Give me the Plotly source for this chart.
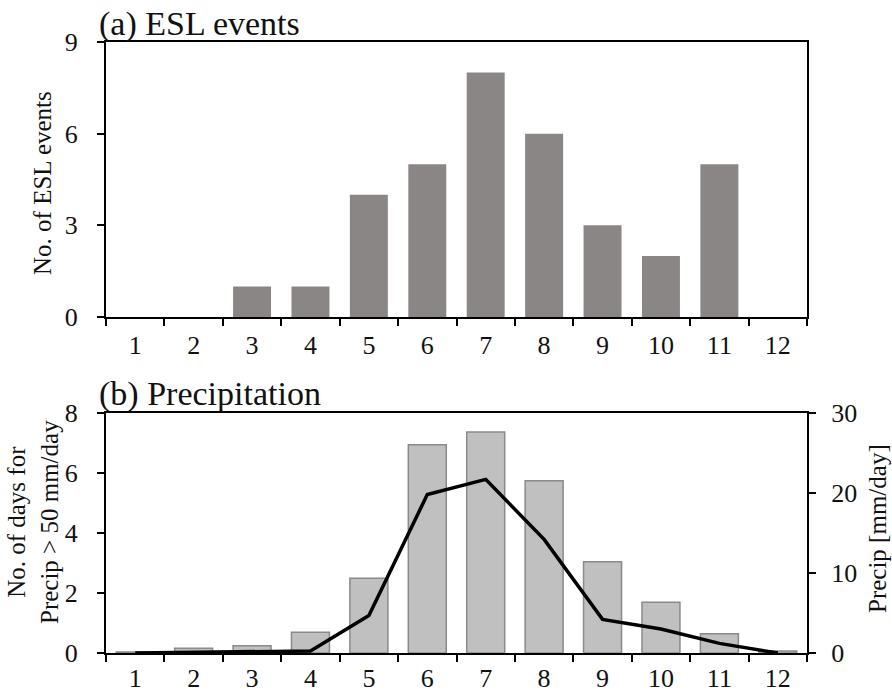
import plotly.graph_objects as go

months = [str(m) for m in range(1, 13)]

# (a) monthly count of ESL events
esl_events = [0, 0, 1, 1, 4, 5, 8, 6, 3, 2, 5, 0]

# (b) days with precipitation > 50 mm/day, and mean precipitation (mm/day)
heavy_days = [0.03, 0.16, 0.24, 0.69, 2.49, 6.94, 7.37, 5.74, 3.04, 1.69, 0.64, 0.07]
precip_mean = [0.0, 0.1, 0.1, 0.25, 4.7, 19.8, 21.7, 14.2, 4.2, 3.0, 1.2, 0.0]

W, H = 892, 692
FONT = "Liberation Serif, Times New Roman, serif"

def px_x(x):
    return x / W

def px_y(y):
    return 1 - y / H

fig = go.Figure()

fig.add_trace(go.Bar(
    x=months, y=esl_events, xaxis="x", yaxis="y",
    marker=dict(color="#8a8685", line=dict(width=0)),
    showlegend=False,
))
fig.add_trace(go.Bar(
    x=months, y=heavy_days, xaxis="x2", yaxis="y2",
    marker=dict(color="#c0c0c0", line=dict(color="#8a8a8a", width=1.5)),
    showlegend=False,
))
fig.add_trace(go.Scatter(
    x=months, y=precip_mean, xaxis="x2", yaxis="y3",
    mode="lines", line=dict(color="black", width=3.5),
    showlegend=False,
))

xdom = [px_x(106), px_x(807)]
axis_common = dict(
    showline=True, linecolor="black", linewidth=2,
    ticks="outside", tickcolor="black", tickwidth=2, ticklen=7,
    showgrid=False, zeroline=False, automargin=False,
    tickfont=dict(family=FONT, size=26, color="#111"),
)

fig.update_layout(
    width=W, height=H,
    margin=dict(l=0, r=0, t=0, b=0, autoexpand=False),
    paper_bgcolor="white", plot_bgcolor="white",
    bargap=0.35,
    font=dict(family=FONT, color="#111"),
    xaxis=dict(domain=xdom, anchor="y", type="category", tickson="boundaries",
               mirror=True, ticklabelstandoff=4, **axis_common),
    yaxis=dict(domain=[px_y(317), px_y(42)], anchor="x", range=[0, 9],
               tickvals=[0, 3, 6, 9], mirror=True, ticklabelstandoff=14, **axis_common),
    xaxis2=dict(domain=xdom, anchor="y2", type="category", tickson="boundaries",
                mirror=True, ticklabelstandoff=1, **axis_common),
    yaxis2=dict(domain=[px_y(653), px_y(413)], anchor="x2", range=[0, 8],
                tickvals=[0, 2, 4, 6, 8], ticklabelstandoff=14, **axis_common),
    yaxis3=dict(overlaying="y2", anchor="x2", side="right", range=[0, 30],
                tickvals=[0, 10, 20, 30], ticklabelstandoff=10, **axis_common),
)

annotations = [
    dict(text="(a) ESL events", x=px_x(97), y=px_y(24), xanchor="left", yanchor="middle",
         font=dict(size=34)),
    dict(text="(b) Precipitation", x=px_x(97), y=px_y(394), xanchor="left", yanchor="middle",
         font=dict(size=34)),
    dict(text="No. of ESL events", x=px_x(42), y=px_y(183), textangle=-90,
         xanchor="center", yanchor="middle", font=dict(size=25)),
    dict(text="No. of days for<br>Precip > 50 mm/day", x=px_x(33), y=px_y(522), textangle=-90,
         xanchor="center", yanchor="middle", font=dict(size=25)),
    dict(text="Precip [mm/day]", x=px_x(877), y=px_y(529), textangle=-90,
         xanchor="center", yanchor="middle", font=dict(size=25)),
]
for a in annotations:
    a.update(xref="paper", yref="paper", showarrow=False)
    a["font"].update(family=FONT, color="#111")
fig.update_layout(annotations=annotations)

fig.write_html("out.html")
